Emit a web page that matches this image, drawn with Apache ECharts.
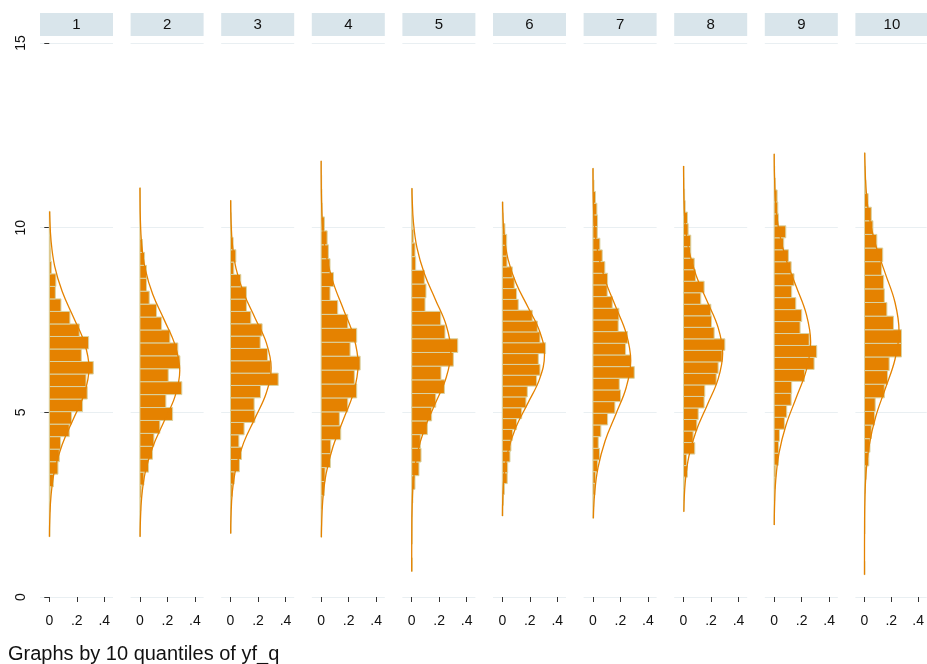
<!DOCTYPE html>
<html>
<head>
<meta charset="utf-8">
<script src="https://cdn.jsdelivr.net/npm/echarts@6/dist/echarts.min.js"></script>
<style>
html, body { margin: 0; padding: 0; background: #ffffff; }
#chart { width: 927px; height: 664px; }
</style>
</head>
<body>
<div id="chart"></div>
<script>
// Panel titles (10 quantiles of yf_q)
const panelLabels = ['1', '2', '3', '4', '5', '6', '7', '8', '9', '10'];

// Histogram bins: lower edge of the first bin and the bin width of each panel
const binStart = [1.63, 1.63, 1.72, 1.62, 0.69, 2.19, 2.13, 2.31, 1.95, 0.60];
const binWidth = [0.339, 0.350, 0.334, 0.377, 0.3707, 0.2934, 0.316, 0.312, 0.324, 0.3687];

// Bin densities, listed from the lowest bin upwards
const dens1 = [0.004, 0.004, 0.006, 0.007, 0.030, 0.063, 0.073, 0.082, 0.145, 0.162, 0.242, 0.276, 0.267, 0.320, 0.233, 0.286, 0.218, 0.150, 0.085, 0.044, 0.048, 0.015, 0.010, 0.007, 0.004, 0.004];
const dens2 = [0.003, 0.003, 0.006, 0.010, 0.029, 0.063, 0.092, 0.102, 0.145, 0.238, 0.189, 0.305, 0.206, 0.291, 0.276, 0.218, 0.158, 0.121, 0.068, 0.048, 0.048, 0.034, 0.019, 0.004, 0.004, 0.003, 0.003];
const dens3 = [0.004, 0.004, 0.006, 0.012, 0.027, 0.065, 0.080, 0.061, 0.099, 0.177, 0.172, 0.218, 0.347, 0.293, 0.269, 0.216, 0.230, 0.148, 0.116, 0.116, 0.075, 0.024, 0.039, 0.019, 0.008, 0.006, 0.004];
const dens4 = [0.004, 0.004, 0.010, 0.024, 0.029, 0.068, 0.070, 0.143, 0.133, 0.194, 0.259, 0.242, 0.284, 0.211, 0.259, 0.194, 0.121, 0.065, 0.090, 0.065, 0.053, 0.044, 0.024, 0.008, 0.006, 0.004, 0.003];
const dens5 = [0.003, 0.000, 0.003, 0.003, 0.004, 0.008, 0.024, 0.053, 0.068, 0.063, 0.114, 0.145, 0.175, 0.238, 0.213, 0.303, 0.335, 0.242, 0.211, 0.097, 0.104, 0.092, 0.029, 0.024, 0.012, 0.006, 0.004, 0.003];
const dens6 = [0.004, 0.008, 0.015, 0.036, 0.039, 0.056, 0.063, 0.075, 0.104, 0.141, 0.172, 0.182, 0.250, 0.274, 0.262, 0.315, 0.274, 0.255, 0.218, 0.116, 0.104, 0.087, 0.073, 0.034, 0.032, 0.032, 0.019, 0.006, 0.004];
const dens7 = [0.004, 0.006, 0.015, 0.019, 0.034, 0.048, 0.039, 0.058, 0.107, 0.160, 0.201, 0.192, 0.301, 0.274, 0.238, 0.252, 0.184, 0.189, 0.141, 0.104, 0.107, 0.087, 0.068, 0.051, 0.032, 0.034, 0.029, 0.019, 0.008, 0.004];
const dens8 = [0.003, 0.004, 0.006, 0.029, 0.022, 0.082, 0.070, 0.097, 0.107, 0.150, 0.155, 0.238, 0.252, 0.281, 0.301, 0.223, 0.204, 0.199, 0.126, 0.150, 0.087, 0.078, 0.053, 0.053, 0.034, 0.029, 0.012, 0.008, 0.004, 0.003];
const dens9 = [0.003, 0.003, 0.004, 0.007, 0.012, 0.032, 0.032, 0.039, 0.075, 0.092, 0.124, 0.128, 0.221, 0.291, 0.310, 0.255, 0.189, 0.201, 0.158, 0.128, 0.145, 0.124, 0.104, 0.070, 0.085, 0.032, 0.027, 0.022, 0.008, 0.004, 0.003];
const dens10 = [0.003, 0.000, 0.000, 0.003, 0.003, 0.003, 0.006, 0.012, 0.032, 0.041, 0.051, 0.075, 0.080, 0.148, 0.172, 0.184, 0.276, 0.276, 0.216, 0.167, 0.148, 0.143, 0.128, 0.136, 0.092, 0.063, 0.051, 0.027, 0.010, 0.006, 0.003];

// Normal density overlay of each panel: [value, density]
const curve1 = [[1.63, 0.0012], [2.06, 0.0032], [2.75, 0.0127], [3.44, 0.039], [4.13, 0.094], [4.82, 0.175], [5.51, 0.255], [6.2, 0.289], [6.89, 0.255], [7.58, 0.175], [8.27, 0.094], [8.96, 0.039], [9.65, 0.0127], [10.34, 0.0032], [10.44, 0.0028]];
const curve2 = [[1.63, 0.0014], [2.0, 0.0032], [2.69, 0.0127], [3.38, 0.039], [4.07, 0.094], [4.76, 0.176], [5.44, 0.256], [6.13, 0.29], [6.82, 0.256], [7.51, 0.176], [8.19, 0.094], [8.88, 0.039], [9.57, 0.0127], [10.26, 0.0032], [10.94, 0.0007], [11.08, 0.0005]];
const curve3 = [[1.72, 0.0014], [2.15, 0.0033], [2.83, 0.013], [3.5, 0.04], [4.18, 0.0959], [4.85, 0.1793], [5.53, 0.2608], [6.2, 0.2955], [6.88, 0.2608], [7.55, 0.1793], [8.23, 0.0959], [8.9, 0.04], [9.58, 0.013], [10.25, 0.0033], [10.74, 0.001]];
const curve4 = [[1.62, 0.002], [1.86, 0.003], [2.6, 0.0118], [3.34, 0.0365], [4.08, 0.0875], [4.82, 0.1635], [5.56, 0.2379], [6.3, 0.2695], [7.04, 0.2379], [7.78, 0.1635], [8.52, 0.0875], [9.26, 0.0365], [10.0, 0.0118], [10.74, 0.003], [11.48, 0.0006], [11.81, 0.0003]];
const curve5 = [[0.69, 0.0], [1.05, 0.0001], [1.75, 0.0006], [2.45, 0.0031], [3.15, 0.0125], [3.85, 0.0386], [4.55, 0.0925], [5.25, 0.1729], [5.95, 0.2515], [6.65, 0.2849], [7.35, 0.2515], [8.05, 0.1729], [8.75, 0.0925], [9.45, 0.0386], [10.15, 0.0125], [10.85, 0.0031], [11.07, 0.002]];
const curve6 = [[2.19, 0.0011], [2.65, 0.0034], [3.3, 0.0135], [3.95, 0.0415], [4.6, 0.0996], [5.25, 0.1862], [5.9, 0.2708], [6.55, 0.3068], [7.2, 0.2708], [7.85, 0.1862], [8.5, 0.0996], [9.15, 0.0415], [9.8, 0.0135], [10.45, 0.0034], [10.7, 0.0019]];
const curve7 = [[2.13, 0.0036], [2.78, 0.0121], [3.5, 0.0372], [4.23, 0.0893], [4.95, 0.1669], [5.68, 0.2428], [6.4, 0.2751], [7.13, 0.2428], [7.85, 0.1669], [8.58, 0.0893], [9.3, 0.0372], [10.03, 0.0121], [10.75, 0.003], [11.48, 0.0006], [11.61, 0.0005]];
const curve8 = [[2.31, 0.0027], [3.1, 0.0125], [3.8, 0.0386], [4.5, 0.0925], [5.2, 0.1729], [5.9, 0.2515], [6.6, 0.2849], [7.3, 0.2515], [8.0, 0.1729], [8.7, 0.0925], [9.4, 0.0386], [10.1, 0.0125], [10.8, 0.0031], [11.5, 0.0006], [11.67, 0.0004]];
const curve9 = [[1.95, 0.0012], [2.4, 0.0029], [3.15, 0.0117], [3.9, 0.036], [4.65, 0.0863], [5.4, 0.1613], [6.15, 0.2347], [6.9, 0.2659], [7.65, 0.2347], [8.4, 0.1613], [9.15, 0.0863], [9.9, 0.036], [10.65, 0.0117], [11.4, 0.0029], [12.0, 0.0008]];
const curve10 = [[0.6, 0.0], [1.0, 0.0001], [1.78, 0.0006], [2.55, 0.0028], [3.33, 0.0113], [4.1, 0.0348], [4.88, 0.0835], [5.65, 0.1561], [6.43, 0.2272], [7.2, 0.2574], [7.98, 0.2272], [8.75, 0.1561], [9.53, 0.0835], [10.3, 0.0348], [11.08, 0.0113], [11.85, 0.0028], [12.03, 0.002]];

// Axis ticks
const densityTicks = [0, 0.2, 0.4];
const valueTicks = [0, 5, 10, 15];
const footnote = 'Graphs by 10 quantiles of yf_q';

const densSets = [dens1, dens2, dens3, dens4, dens5, dens6, dens7, dens8, dens9, dens10];
const curveSets = [curve1, curve2, curve3, curve4, curve5, curve6, curve7, curve8, curve9, curve10];

// Layout
const FONT = '"Liberation Sans", Arial, Helvetica, sans-serif';
const PANEL_LEFT = 40, PANEL_STEP = 90.6, PANEL_W = 73;
const PLOT_TOP = 43, PLOT_H = 554;
const BAR_FILL = '#e58200', BAR_EDGE = '#d9d3a3', GRID_COLOR = '#e9eff2', STRIP_COLOR = '#d9e5eb';

const grids = [], xAxes = [], yAxes = [], series = [], graphics = [];

panelLabels.forEach((label, k) => {
  const left = PANEL_LEFT + PANEL_STEP * k;
  grids.push({ left: left, top: PLOT_TOP, width: PANEL_W, height: PLOT_H });

  xAxes.push({
    type: 'value', gridIndex: k, min: -0.0676, max: 0.4633,
    position: 'bottom', offset: 10,
    axisLine: { show: false },
    axisTick: { show: true, customValues: densityTicks, length: 5, lineStyle: { color: '#333', width: 1 } },
    axisLabel: {
      customValues: densityTicks, color: '#111', fontFamily: FONT, fontSize: 14, margin: 7,
      formatter: v => (v === 0 ? '0' : String(+v.toFixed(1)).replace(/^0\./, '.'))
    },
    splitLine: { show: false }
  });

  yAxes.push({
    type: 'value', gridIndex: k, min: valueTicks[0], max: valueTicks[valueTicks.length - 1], interval: 5,
    axisLine: { show: false },
    axisTick: { show: k === 0, length: 5, lineStyle: { color: '#333', width: 1 } },
    axisLabel: { show: k === 0, rotate: 90, color: '#111', fontFamily: FONT, fontSize: 14, margin: 12 },
    splitLine: { show: true, lineStyle: { color: GRID_COLOR, width: 1 } }
  });

  const start = binStart[k], width = binWidth[k];
  series.push({
    type: 'custom', xAxisIndex: k, yAxisIndex: k,
    data: densSets[k].map((d, i) => [d, start + i * width, start + (i + 1) * width]),
    encode: { x: 0, y: [1, 2] },
    renderItem: (params, api) => {
      const d = api.value(0);
      if (!(d > 0)) return null;
      const p0 = api.coord([0, api.value(2)]);
      const p1 = api.coord([d, api.value(1)]);
      return {
        type: 'rect',
        shape: { x: p0[0], y: p0[1], width: p1[0] - p0[0], height: p1[1] - p0[1] },
        style: { fill: BAR_FILL, stroke: BAR_EDGE, lineWidth: 1 }
      };
    },
    silent: true, z: 2
  });

  series.push({
    type: 'line', xAxisIndex: k, yAxisIndex: k,
    data: curveSets[k].map(p => [p[1], p[0]]),
    smooth: 0.4, showSymbol: false, silent: true,
    lineStyle: { color: BAR_FILL, width: 1.3 }, z: 3
  });

  // panel strip with its quantile number
  graphics.push({
    type: 'rect', left: left, top: 13,
    shape: { width: PANEL_W, height: 23 },
    style: { fill: STRIP_COLOR }, silent: true
  });
  graphics.push({
    type: 'text', x: left + PANEL_W / 2, y: 24.5,
    style: { text: label, fill: '#111', font: '15px ' + FONT, textAlign: 'center', textVerticalAlign: 'middle' },
    silent: true
  });
});

graphics.push({
  type: 'text', x: 8, y: 654,
  style: { text: footnote, fill: '#111', font: '20px ' + FONT, textAlign: 'left', textVerticalAlign: 'middle' },
  silent: true
});

const chart = echarts.init(document.getElementById('chart'), null, { renderer: 'canvas' });
chart.setOption({
  animation: false,
  backgroundColor: '#ffffff',
  grid: grids,
  xAxis: xAxes,
  yAxis: yAxes,
  series: series,
  graphic: graphics
});
</script>
</body>
</html>
